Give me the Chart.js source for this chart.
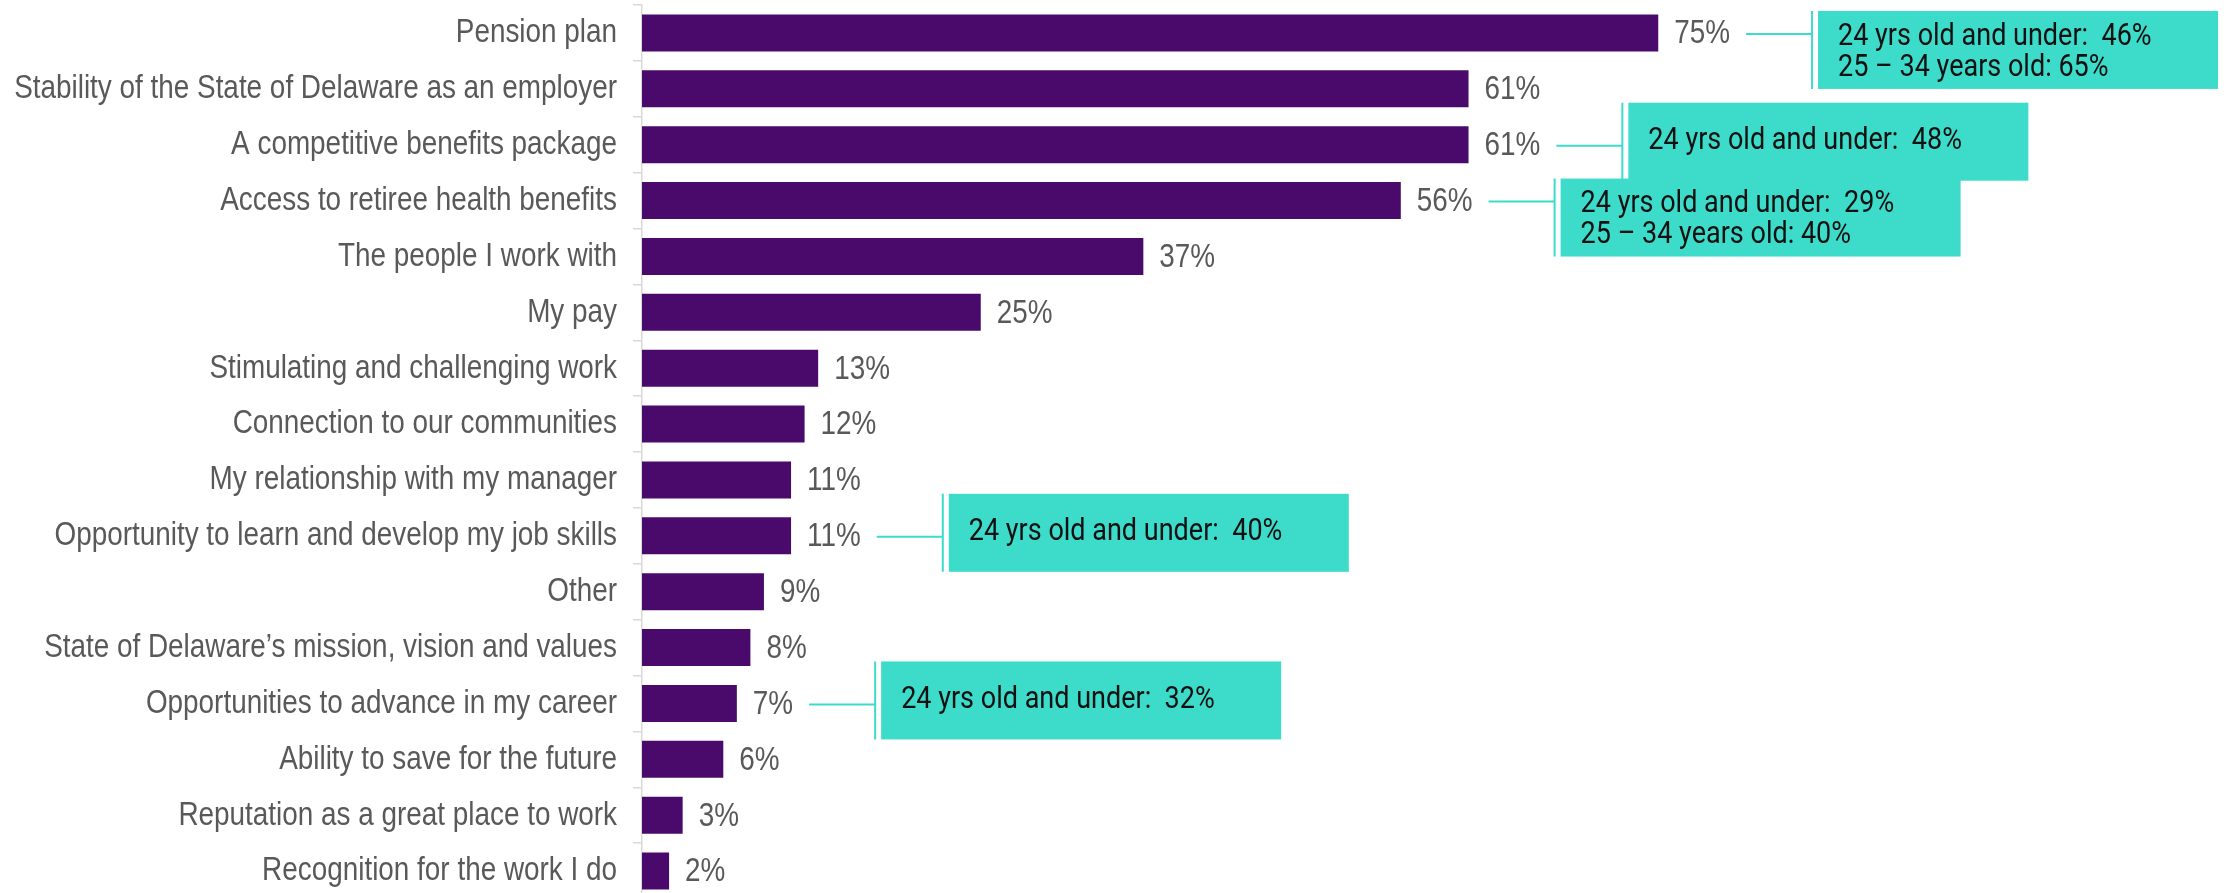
<!DOCTYPE html>
<html>
<head>
<meta charset="utf-8">
<script src="https://cdn.jsdelivr.net/npm/chart.js@4.4.1/dist/chart.umd.min.js"></script>
<style>
  html, body { margin: 0; padding: 0; background: #ffffff; overflow: hidden; }
  #wrap { position: relative; width: 2235px; height: 905px; }
</style>
</head>
<body>
<div id="wrap"><canvas id="reasonsChart"></canvas></div>
<script>
// categories, top to bottom
const categories = [
  'Pension plan',
  'Stability of the State of Delaware as an employer',
  'A competitive benefits package',
  'Access to retiree health benefits',
  'The people I work with',
  'My pay',
  'Stimulating and challenging work',
  'Connection to our communities',
  'My relationship with my manager',
  'Opportunity to learn and develop my job skills',
  'Other',
  'State of Delaware\u2019s mission, vision and values',
  'Opportunities to advance in my career',
  'Ability to save for the future',
  'Reputation as a great place to work',
  'Recognition for the work I do'
];

// % of respondents
const values = [75, 61, 61, 56, 37, 25, 13, 12, 11, 11, 9, 8, 7, 6, 3, 2];

// age-group callouts
const calloutCategories = [
  'Pension plan',
  'A competitive benefits package',
  'Access to retiree health benefits',
  'Opportunity to learn and develop my job skills',
  'Opportunities to advance in my career'
];
const calloutLines = [
  ['24 yrs old and under:  46%', '25 \u2013 34 years old: 65%'],
  ['24 yrs old and under:  48%'],
  ['24 yrs old and under:  29%', '25 \u2013 34 years old: 40%'],
  ['24 yrs old and under:  40%'],
  ['24 yrs old and under:  32%']
];

const labelFont = '34px "Liberation Sans", Arial, sans-serif';
const narrow = 0.82; // the source uses a condensed face
const purple = '#4a0a6b';
const teal = '#3ddbca';

function narrowText(ctx, text, x, y, align) {
  ctx.save();
  ctx.translate(x, y);
  ctx.scale(narrow, 1);
  ctx.textAlign = align;
  ctx.fillText(text, 0, 0);
  ctx.restore();
}

// category names left of the axis
const categoryLabels = {
  id: 'categoryLabels',
  afterDraw(chart) {
    const ctx = chart.ctx;
    const yScale = chart.scales.y;
    ctx.save();
    ctx.font = labelFont;
    ctx.fillStyle = '#595959';
    ctx.textBaseline = 'middle';
    categories.forEach((c, i) => {
      narrowText(ctx, c, chart.chartArea.left - 25, yScale.getPixelForValue(i), 'right');
    });
    ctx.restore();
  }
};

// value labels at the end of each bar
const valueLabels = {
  id: 'valueLabels',
  afterDatasetsDraw(chart) {
    const ctx = chart.ctx;
    const meta = chart.getDatasetMeta(0);
    ctx.save();
    ctx.font = labelFont;
    ctx.fillStyle = '#595959';
    ctx.textBaseline = 'middle';
    meta.data.forEach((bar, i) => {
      narrowText(ctx, values[i] + '%', bar.x + 16, bar.y + 1, 'left');
    });
    ctx.restore();
  }
};

// teal boxes with connector lines
const callouts = {
  id: 'callouts',
  afterDatasetsDraw(chart) {
    const ctx = chart.ctx;
    const meta = chart.getDatasetMeta(0);
    ctx.save();
    calloutCategories.forEach((cat, k) => {
      const i = categories.indexOf(cat);
      const bar = meta.data[i];
      const lines = calloutLines[k];

      ctx.font = labelFont;
      const labelW = ctx.measureText(values[i] + '%').width * narrow;

      const x0 = bar.x + 16 + labelW + 16;
      const x1 = x0 + 66;
      const boxH = 78;
      const boxW = 400;
      const top = lines.length > 1 ? bar.y - 22 : bar.y - 42;

      ctx.strokeStyle = teal;
      ctx.lineWidth = 2;
      ctx.beginPath();
      ctx.moveTo(x0, bar.y + 1);
      ctx.lineTo(x1, bar.y + 1);
      ctx.moveTo(x1, top);
      ctx.lineTo(x1, top + boxH);
      ctx.stroke();

      ctx.fillStyle = teal;
      ctx.fillRect(x1 + 6, top, boxW, boxH);

      ctx.fillStyle = '#111111';
      ctx.font = '27px Roboto, sans-serif';
      ctx.textBaseline = 'middle';
      ctx.textAlign = 'left';
      const ys = lines.length > 1 ? [top + 26, top + 57] : [top + 39];
      lines.forEach((t, j) => {
        ctx.save();
        ctx.translate(x1 + 26, ys[j]);
        ctx.scale(1, 1.13);
        ctx.fillText(t, 0, 0);
        ctx.restore();
      });
    });
    ctx.restore();
  }
};

const ctx = document.getElementById('reasonsChart').getContext('2d');
const reasonsChart = new Chart(ctx, {
  type: 'bar',
  data: {
    labels: categories,
    datasets: [{
      data: values,
      backgroundColor: purple,
      borderWidth: 0,
      barPercentage: 0.66,
      categoryPercentage: 1
    }]
  },
  options: {
    indexAxis: 'y',
    responsive: true,
    maintainAspectRatio: false,
    animation: false,
    layout: {
      padding: { top: 5, bottom: 6, left: 0, right: 238 }
    },
    scales: {
      x: {
        display: false,
        min: 0,
        max: 100
      },
      y: {
        afterFit(scale) { scale.width = 642; },
        ticks: { display: false },
        grid: {
          drawOnChartArea: false,
          drawTicks: true,
          tickLength: 9,
          color: '#d9d9d9',
          lineWidth: 1.5
        },
        border: { color: '#d9d9d9', width: 1.5 }
      }
    },
    plugins: {
      legend: { display: false },
      tooltip: { enabled: false }
    }
  },
  plugins: [categoryLabels, valueLabels, callouts]
});
</script>
</body>
</html>
